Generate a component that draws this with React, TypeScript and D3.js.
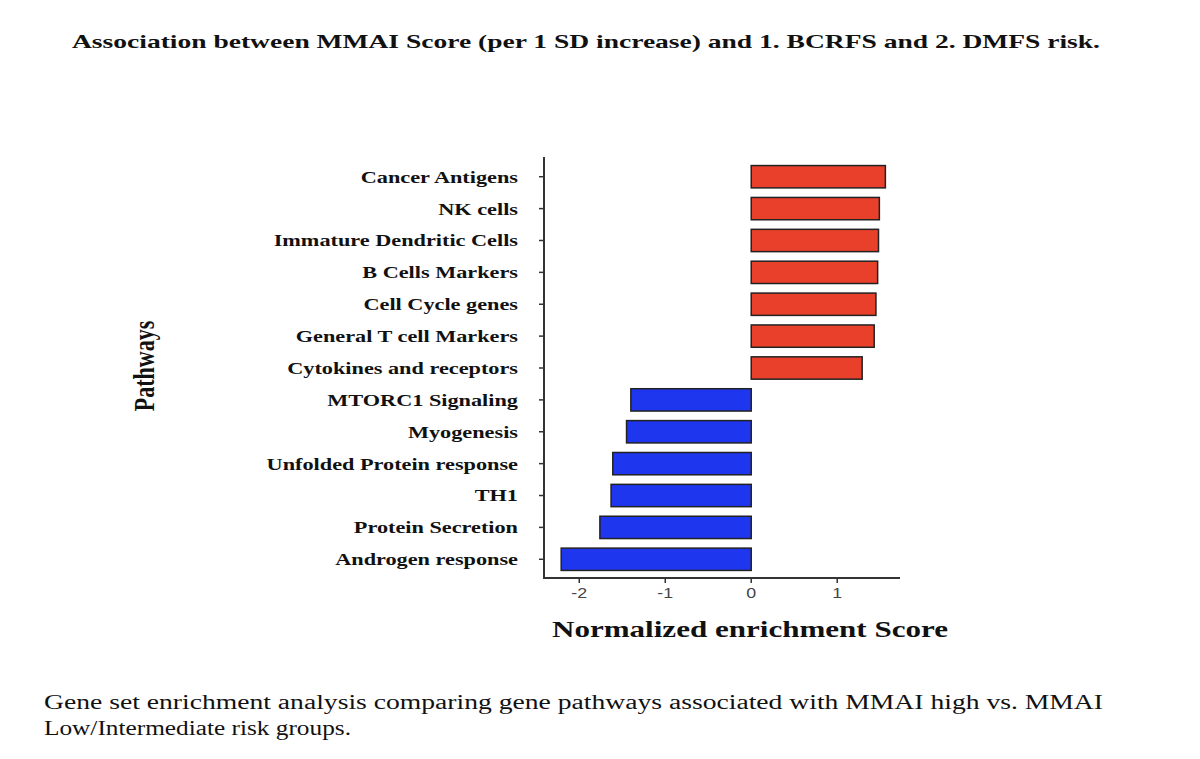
import * as d3 from 'd3';

const pathways = [
    'Cancer Antigens',
    'NK cells',
    'Immature Dendritic Cells',
    'B Cells Markers',
    'Cell Cycle genes',
    'General T cell Markers',
    'Cytokines and receptors',
    'MTORC1 Signaling',
    'Myogenesis',
    'Unfolded Protein response',
    'TH1',
    'Protein Secretion',
    'Androgen response',
];
const nes = [1.56, 1.49, 1.48, 1.47, 1.45, 1.43, 1.29, -1.4, -1.45, -1.61, -1.63, -1.76, -2.21];
const xTicks = [-2, -1, 0, 1];

const WIDTH = 1200;
const HEIGHT = 759;
const serif = '"Liberation Serif", "Times New Roman", serif';
const sans = '"Liberation Sans", Arial, sans-serif';
// the source image is stretched sideways, so text is widened to match
const STRETCH = 1.31;

export default function App() {
    const x = d3.scaleLinear().domain([-2.41, 1.73]).range([544, 900]);
    const y = d3.scaleBand<string>().domain(pathways).range([156, 580]).padding(0.3);

    const rows = pathways.map((p, i) => ({ p, v: nes[i] }));

    return (
        <svg
            width={WIDTH}
            height={HEIGHT}
            viewBox={`0 0 ${WIDTH} ${HEIGHT}`}
            style={{ position: 'absolute', left: 0, top: 0, background: '#fff' }}
        >
            <text
                x={72}
                y={48}
                textLength={1028}
                lengthAdjust="spacingAndGlyphs"
                fontFamily={serif}
                fontWeight="bold"
                fontSize={19}
                fill="#111"
            >
                Association between MMAI Score (per 1 SD increase) and 1. BCRFS and 2. DMFS risk.
            </text>

            {rows.map((d) => (
                <rect
                    key={d.p}
                    x={x(Math.min(0, d.v))}
                    y={y(d.p)!}
                    width={Math.abs(x(d.v) - x(0))}
                    height={y.bandwidth()}
                    fill={d.v > 0 ? '#e8402a' : '#1f36ef'}
                    stroke="#222"
                    strokeWidth={1.5}
                />
            ))}

            {/* y axis */}
            <line x1={544} x2={544} y1={157} y2={579} stroke="#333" strokeWidth={2} />
            {pathways.map((p) => {
                const cy = y(p)! + y.bandwidth() / 2;
                return (
                    <g key={p}>
                        <line x1={539} x2={544} y1={cy} y2={cy} stroke="#333" strokeWidth={1.5} />
                        <text
                            transform={`translate(518, ${cy}) scale(${STRETCH}, 1)`}
                            dy="0.35em"
                            textAnchor="end"
                            fontFamily={serif}
                            fontWeight="bold"
                            fontSize={17}
                            fill="#111"
                        >
                            {p}
                        </text>
                    </g>
                );
            })}

            {/* x axis */}
            <line x1={543} x2={900} y1={578} y2={578} stroke="#333" strokeWidth={2} />
            {xTicks.map((t) => (
                <g key={t}>
                    <line x1={x(t)} x2={x(t)} y1={578} y2={583} stroke="#333" strokeWidth={1.5} />
                    <text
                        transform={`translate(${x(t)}, 598) scale(1.15, 1)`}
                        textAnchor="middle"
                        fontFamily={sans}
                        fontSize={15.5}
                        fill="#444"
                    >
                        {t < 0 ? `-${Math.abs(t)}` : t}
                    </text>
                </g>
            ))}

            <text
                x={552}
                y={637}
                textLength={396}
                lengthAdjust="spacingAndGlyphs"
                fontFamily={serif}
                fontWeight="bold"
                fontSize={22.5}
                fill="#111"
            >
                Normalized enrichment Score
            </text>

            <text
                transform="translate(154, 366) rotate(-90) scale(1, 1.3)"
                textAnchor="middle"
                fontFamily={serif}
                fontWeight="bold"
                fontSize={22}
                fill="#111"
            >
                Pathways
            </text>

            <text
                x={44}
                y={709}
                textLength={1059}
                lengthAdjust="spacingAndGlyphs"
                fontFamily={serif}
                fontSize={20.5}
                fill="#111"
            >
                Gene set enrichment analysis comparing gene pathways associated with MMAI high vs. MMAI
            </text>
            <text
                x={44}
                y={735}
                textLength={307}
                lengthAdjust="spacingAndGlyphs"
                fontFamily={serif}
                fontSize={20.5}
                fill="#111"
            >
                Low/Intermediate risk groups.
            </text>
        </svg>
    );
}
